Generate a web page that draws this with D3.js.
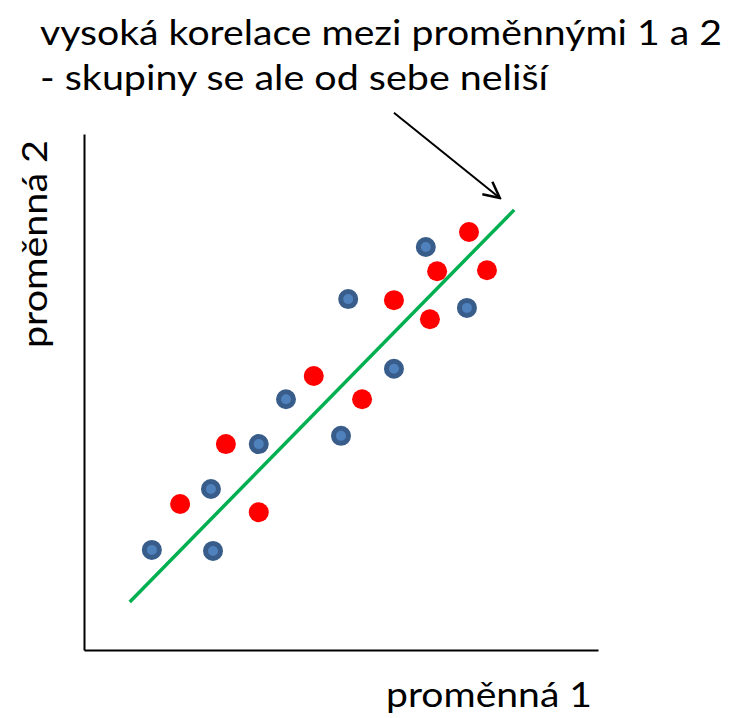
<!DOCTYPE html>
<html>
<head>
<meta charset="utf-8">
<script src="https://cdn.jsdelivr.net/npm/d3@7"></script>
<style>
  body { margin: 0; background: #fff; }
  text { font-family: Lato, "Open Sans", sans-serif; fill: #000; }
</style>
</head>
<body>
<script>
// skupina A (modré body)
var blueX = [13.2, 24.7, 25.1, 34.0, 39.3, 50.0, 51.4, 60.3, 66.5, 74.5];
var blueY = [19.4, 31.2, 19.2, 39.9, 48.6, 41.5, 68.0, 54.5, 78.1, 66.3];
// skupina B (červené body)
var redX = [18.7, 27.6, 34.0, 44.7, 54.1, 60.3, 67.3, 68.7, 74.9, 78.4];
var redY = [28.3, 39.9, 26.7, 53.1, 48.6, 67.8, 64.1, 73.4, 81.0, 73.6];
// regresní přímka a šipka
var lineX = [8.9, 83.7];
var lineY = [9.3, 85.3];
var arrowX = [60.3, 80.9];
var arrowY = [104.1, 87.6];

var titleLines = ["vysoká korelace mezi proměnnými 1 a 2", "- skupiny se ale od sebe neliší"];
var xLabel = "proměnná 1";
var yLabel = "proměnná 2";

var width = 732, height = 718;
var margin = {top: 134, right: 134, bottom: 68, left: 84};

var svg = d3.select("body").append("svg")
    .attr("width", width)
    .attr("height", height);

var x = d3.scaleLinear().domain([0, 100]).range([margin.left, width - margin.right]);
var y = d3.scaleLinear().domain([0, 100]).range([height - margin.bottom, margin.top]);

// axes (bez ticků)
svg.append("g")
    .attr("transform", "translate(0," + y(0) + ")")
    .call(d3.axisBottom(x).ticks(0).tickSize(0).tickSizeOuter(0))
    .call(function(g) { g.select(".domain").attr("stroke", "#000").attr("stroke-width", 2); });
svg.append("g")
    .attr("transform", "translate(" + x(0) + ",0)")
    .call(d3.axisLeft(y).ticks(0).tickSize(0).tickSizeOuter(0))
    .call(function(g) { g.select(".domain").attr("stroke", "#000").attr("stroke-width", 2); });

// green line
svg.append("path")
    .datum(d3.zip(lineX, lineY))
    .attr("fill", "none")
    .attr("stroke", "#00b050")
    .attr("stroke-width", 3.5)
    .attr("d", d3.line().x(function(d) { return x(d[0]); }).y(function(d) { return y(d[1]); }));

// red points
svg.append("g").selectAll("circle")
    .data(d3.zip(redX, redY))
    .join("circle")
    .attr("cx", function(d) { return x(d[0]); })
    .attr("cy", function(d) { return y(d[1]); })
    .attr("r", 10)
    .attr("fill", "#ff0000");

// blue points
svg.append("g").selectAll("circle")
    .data(d3.zip(blueX, blueY))
    .join("circle")
    .attr("cx", function(d) { return x(d[0]); })
    .attr("cy", function(d) { return y(d[1]); })
    .attr("r", 7.5)
    .attr("fill", "#4f81bd")
    .attr("stroke", "#385d8a")
    .attr("stroke-width", 5);

// arrow
svg.append("defs").append("marker")
    .attr("id", "head")
    .attr("viewBox", "0 0 20 20")
    .attr("refX", 18).attr("refY", 10)
    .attr("markerWidth", 20).attr("markerHeight", 20)
    .attr("markerUnits", "userSpaceOnUse")
    .attr("orient", "auto")
  .append("path")
    .attr("d", "M2,2 L18,10 L2,18")
    .attr("fill", "none")
    .attr("stroke", "#000")
    .attr("stroke-width", 2.5);

svg.append("line")
    .attr("x1", x(arrowX[0])).attr("y1", y(arrowY[0]))
    .attr("x2", x(arrowX[1])).attr("y2", y(arrowY[1]))
    .attr("stroke", "#000")
    .attr("stroke-width", 2)
    .attr("marker-end", "url(#head)");

// title
svg.append("text").attr("x", 40).attr("y", 45)
    .attr("font-size", 34)
    .attr("textLength", 682).attr("lengthAdjust", "spacingAndGlyphs")
    .text(titleLines[0]);
svg.append("text").attr("x", 40).attr("y", 90)
    .attr("font-size", 34)
    .attr("textLength", 508).attr("lengthAdjust", "spacingAndGlyphs")
    .text(titleLines[1]);

// axis labels
svg.append("text").attr("x", 386).attr("y", 707)
    .attr("font-size", 34)
    .attr("textLength", 206).attr("lengthAdjust", "spacingAndGlyphs")
    .text(xLabel);
svg.append("text")
    .attr("transform", "translate(47,348) rotate(-90)")
    .attr("font-size", 34)
    .attr("textLength", 208).attr("lengthAdjust", "spacingAndGlyphs")
    .text(yLabel);
</script>
</body>
</html>
